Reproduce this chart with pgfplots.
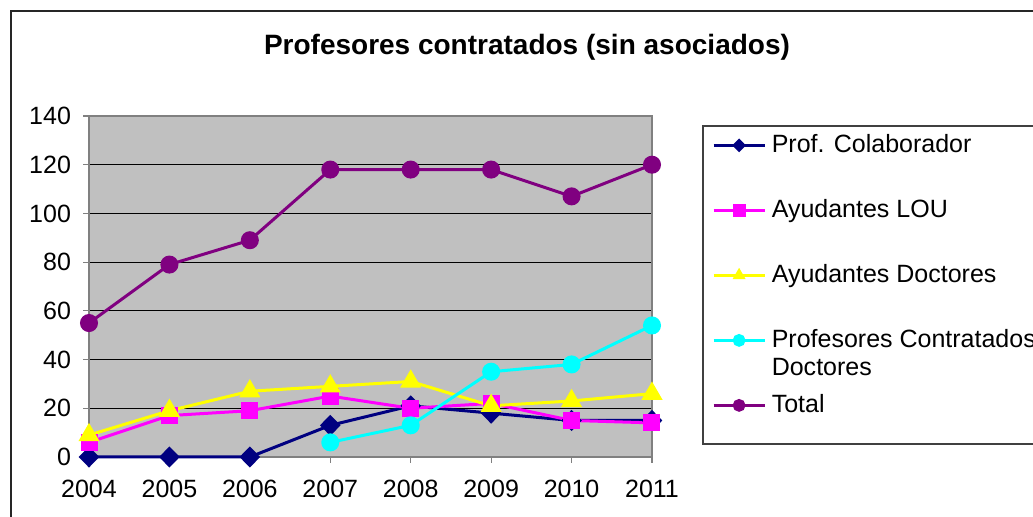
\documentclass[border=0pt]{standalone}
\usepackage{pgfplots}
\pgfplotsset{compat=1.18}
\usepackage{fontspec}
\setmainfont{Liberation Sans}
\definecolor{navyc}{RGB}{0,0,128}
\definecolor{magc}{RGB}{255,0,255}
\definecolor{yelc}{RGB}{255,255,0}
\definecolor{cyac}{RGB}{0,255,255}
\definecolor{purc}{RGB}{128,0,128}
\definecolor{plotbg}{RGB}{192,192,192}
\definecolor{axgray}{RGB}{128,128,128}
\newcommand{\lf}{\fontsize{12.5pt}{14pt}\selectfont}
\begin{document}
\begin{tikzpicture}[x=1pt,y=1pt]
\useasboundingbox (0,0) rectangle (516.5,258.5);
\clip (0,0) rectangle (516.5,258.5);
\draw[line width=0.8pt, black!85] (5.5,-10) rectangle (540,253);
\node[font=\bfseries\fontsize{14pt}{17pt}\selectfont] at (263.5,235) {Profesores contratados (sin asociados)};
\draw[line width=0.6pt, black!75] (351.5,36.5) rectangle (540,195.5);
\begin{axis}[
  at={(44.5pt,30pt)}, anchor=south west,
  width=281.5pt, height=170.5pt, scale only axis,
  xmin=0, xmax=7, ymin=0, ymax=140,
  xtick={0,1,2,3,4,5,6,7},
  xticklabels={2004,2005,2006,2007,2008,2009,2010,2011},
  ytick={0,20,40,60,80,100,120,140},
  xtick pos=bottom, ytick pos=left,
  ymajorgrids, major grid style={black, line width=0.5pt},
  axis background/.style={fill=plotbg},
  axis line style={axgray, line width=1pt},
  tick align=outside, major tick length=3pt,
  xtick style={axgray, line width=0.6pt},
  ytick style={axgray, line width=0.6pt},
  tick label style={font=\lf},
  /pgf/number format/assume math mode=true,
  /pgf/number format/1000 sep={},
  xticklabel style={yshift=-5pt},
  yticklabel style={xshift=-2.5pt},
  clip=false,
  legend cell align=left,
  legend style={at={(1.0906,0.9707)}, anchor=north west, draw=none, fill=none,
    font=\lf, row sep=20.5pt, column sep=3pt, inner xsep=4.5pt, inner ysep=3.5pt,
    nodes={inner sep=0pt, text height=9.5pt, text depth=2.5pt}},
  every axis plot/.append style={line width=1.5pt},
  legend image code/.code={\draw[mark repeat=2,mark phase=2,#1,line width=1.2pt,mark size=2.6pt] plot coordinates {(0pt,0pt) (12.75pt,0pt) (25.5pt,0pt)};},
]
\addplot[color=navyc, mark=diamond*, mark size=4.2pt, mark options={fill=navyc, draw=navyc, xscale=1.3}]
  coordinates {(0,0) (1,0) (2,0) (3,13) (4,21) (5,18) (6,15) (7,15)};
\addlegendentry{Prof. Colaborador}
\addplot[color=magc, mark=square*, mark size=3.5pt, mark options={fill=magc, draw=magc}]
  coordinates {(0,6) (1,17) (2,19) (3,25) (4,20) (5,22) (6,15) (7,14)};
\addlegendentry{Ayudantes LOU}
\addplot[color=yelc, mark=triangle*, mark size=4.6pt, mark options={fill=yelc, draw=yelc}]
  coordinates {(0,9) (1,19) (2,27) (3,29) (4,31) (5,21) (6,23) (7,26)};
\addlegendentry{Ayudantes Doctores}
\addplot[color=cyac, mark=*, mark size=3.75pt, mark options={fill=cyac, draw=cyac}]
  coordinates {(3,6) (4,13) (5,35) (6,38) (7,54)};
\addlegendentry{\begin{tabular}[t]{@{}l@{}}Profesores Contratados\\Doctores\end{tabular}}
\addplot[color=purc, mark=*, mark size=3.75pt, mark options={fill=purc, draw=purc}]
  coordinates {(0,55) (1,79) (2,89) (3,118) (4,118) (5,118) (6,107) (7,120)};
\addlegendentry{Total}
\end{axis}
\end{tikzpicture}
\end{document}
